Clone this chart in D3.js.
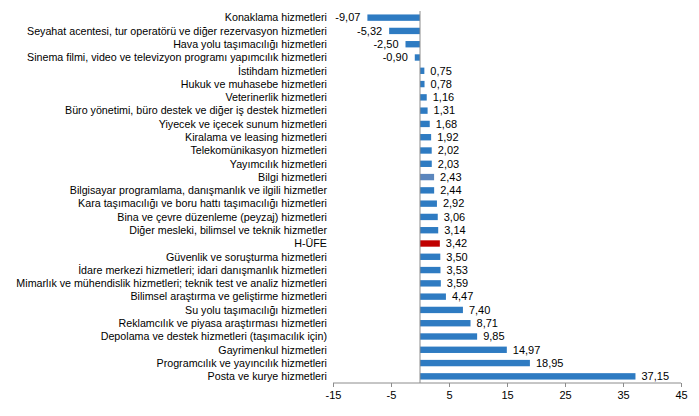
<!DOCTYPE html>
<html><head><meta charset="utf-8">
<script src="https://cdn.jsdelivr.net/npm/d3@7/dist/d3.min.js"></script>
<style>body{margin:0;background:#fff;} text{font-family:"Liberation Sans",Arial,sans-serif;}</style>
</head><body>
<svg id="c" width="699" height="416"></svg>
<script>
const categories = [
"Konaklama hizmetleri",
"Seyahat acentesi, tur operatörü ve diğer rezervasyon hizmetleri",
"Hava yolu taşımacılığı hizmetleri",
"Sinema filmi, video ve televizyon programı yapımcılık hizmetleri",
"İstihdam hizmetleri",
"Hukuk ve muhasebe hizmetleri",
"Veterinerlik hizmetleri",
"Büro yönetimi, büro destek ve diğer iş destek hizmetleri",
"Yiyecek ve içecek sunum hizmetleri",
"Kiralama ve leasing hizmetleri",
"Telekomünikasyon hizmetleri",
"Yayımcılık hizmetleri",
"Bilgi hizmetleri",
"Bilgisayar programlama, danışmanlık ve ilgili hizmetler",
"Kara taşımacılığı ve boru hattı taşımacılığı hizmetleri",
"Bina ve çevre düzenleme (peyzaj) hizmetleri",
"Diğer mesleki, bilimsel ve teknik hizmetler",
"H-ÜFE",
"Güvenlik ve soruşturma hizmetleri",
"İdare merkezi hizmetleri; idari danışmanlık hizmetleri",
"Mimarlık ve mühendislik hizmetleri; teknik test ve analiz hizmetleri",
"Bilimsel araştırma ve geliştirme hizmetleri",
"Su yolu taşımacılığı hizmetleri",
"Reklamcılık ve piyasa araştırması hizmetleri",
"Depolama ve destek hizmetleri (taşımacılık için)",
"Gayrimenkul hizmetleri",
"Programcılık ve yayıncılık hizmetleri",
"Posta ve kurye hizmetleri"
];
const values = [-9.07,-5.32,-2.50,-0.90,0.75,0.78,1.16,1.31,1.68,1.92,2.02,2.03,2.43,2.44,2.92,3.06,3.14,3.42,3.50,3.53,3.59,4.47,7.40,8.71,9.85,14.97,18.95,37.15];
const xTicks = [-15,-5,5,15,25,35,45];
const highlight = {"H-ÜFE":"#c00000","Bilgi hizmetleri":"#5b86bd"};

const svg = d3.select("#c");
const x = d3.scaleLinear().domain([-15,45]).range([333,681]);
const y = d3.scaleBand().domain(categories).range([11,383]).paddingInner(0.52).paddingOuter(0.26);
const data = categories.map((c,i)=>({c, v:values[i]}));
const fmt = v => (v<0?"-":"") + Math.abs(v).toFixed(2).replace(".",",");

svg.selectAll("rect.bar").data(data).join("rect")
  .attr("x", d=>x(Math.min(0,d.v)))
  .attr("width", d=>Math.abs(x(d.v)-x(0)))
  .attr("y", d=>y(d.c))
  .attr("height", y.bandwidth())
  .attr("fill", d=>highlight[d.c]||"#2e7bc2");

svg.append("line").attr("x1",x(0)).attr("x2",x(0)).attr("y1",11).attr("y2",383)
  .attr("stroke","#8c8c8c").attr("stroke-width",1);

svg.selectAll("text.cat").data(data).join("text")
  .attr("x",327).attr("y",d=>y(d.c)+y.bandwidth()/2)
  .attr("dy","0.35em").attr("text-anchor","end")
  .attr("font-size","10.7px").attr("fill","#000").text(d=>d.c);

svg.selectAll("text.val").data(data).join("text")
  .attr("x",d=> d.v<0 ? x(d.v)-7 : x(d.v)+6)
  .attr("y",d=>y(d.c)+y.bandwidth()/2)
  .attr("dy","0.35em").attr("text-anchor",d=>d.v<0?"end":"start")
  .attr("font-size","11px").attr("fill","#000").text(d=>fmt(d.v));

const ax = svg.append("g").attr("transform","translate(0,383)")
  .call(d3.axisBottom(x).tickValues(xTicks).tickSize(4).tickFormat(d=>String(d)));
ax.select(".domain").attr("stroke","#8c8c8c").attr("d","M333,0H681");
ax.selectAll(".tick line").attr("stroke","#8c8c8c");
ax.selectAll(".tick text").attr("font-size","11px").attr("font-family","Liberation Sans, Arial, sans-serif").attr("fill","#000").attr("dy","0.8em");
</script>
</body></html>
